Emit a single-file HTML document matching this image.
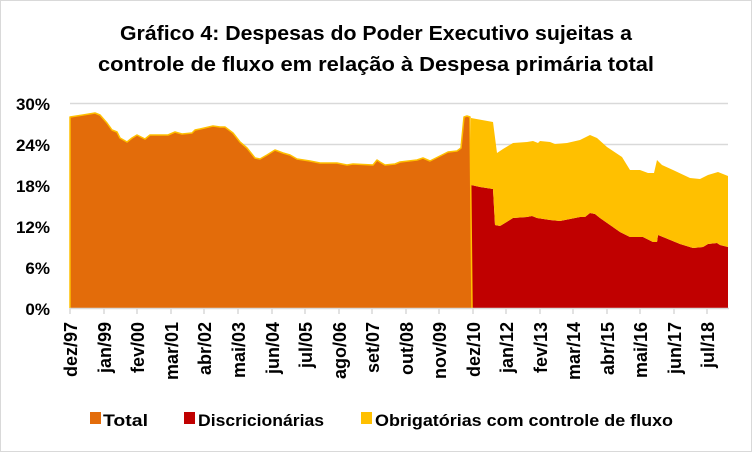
<!DOCTYPE html>
<html><head><meta charset="utf-8"><style>html,body{margin:0;padding:0;background:#fff}svg{display:block}</style></head><body>
<svg width="752" height="452" viewBox="0 0 752 452" xmlns="http://www.w3.org/2000/svg" font-family="Liberation Sans, sans-serif">
<rect x="0.5" y="0.5" width="751" height="451" fill="#fff" stroke="#d9d9d9"/>
<text x="376" y="40" text-anchor="middle" font-size="20" font-weight="bold" textLength="512" lengthAdjust="spacingAndGlyphs">Gráfico 4: Despesas do Poder Executivo sujeitas a</text>
<text x="376" y="71" text-anchor="middle" font-size="20" font-weight="bold" textLength="556" lengthAdjust="spacingAndGlyphs">controle de fluxo em relação à Despesa primária total</text>
<g stroke="#d9d9d9" stroke-width="1.5">
<line x1="70" y1="103.5" x2="728" y2="103.5"/><line x1="70" y1="144.5" x2="728" y2="144.5"/><line x1="70" y1="185.5" x2="728" y2="185.5"/><line x1="70" y1="226.5" x2="728" y2="226.5"/><line x1="70" y1="267.5" x2="728" y2="267.5"/>
</g>
<g font-size="17" font-weight="bold" text-anchor="end">
<text x="50" y="110">30%</text><text x="50" y="151">24%</text><text x="50" y="192">18%</text><text x="50" y="233">12%</text><text x="50" y="274">6%</text><text x="50" y="315">0%</text>
</g>
<polygon fill="#c00000" points="471,308 471,185 480,187 493,189 495,225 500,226 505,223 513,218 527,217 532,216 537,218 550,220 560,221 580,217 585,217 590,213 595,214 600,218 610,225 620,232 630,237 643,237 653,242 657,242 658,235 663,237 680,244 693,248 703,247 708,244 717,243 720,245 728,247 728,308"/>
<polygon fill="#ffc000" points="471,185 471,118 493,122 497,153 503,149 513,143 527,142 533,141 538,143 540,141 550,142 555,144 567,143 580,140 590,135 597,138 607,147 613,151 622,157 630,170 640,170 648,173 654,173 657,160 662,165 673,170 690,178 700,179 708,175 718,172 728,176 728,247 720,245 717,243 708,244 703,247 693,248 680,244 663,237 658,235 657,242 653,242 643,237 630,237 620,232 610,225 600,218 595,214 590,213 585,217 580,217 560,221 550,220 537,218 532,216 527,217 513,218 505,223 500,226 495,225 493,189 480,187"/>
<polyline fill="#e36c0a" stroke="#ffc000" stroke-width="1.5" stroke-linejoin="round" points="70,308 70,117 83,115 95,113 100,115 107,123 112,130 117,132 120,138 127,142 132,138 137,135 145,139 150,135 168,135 175,132 182,134 192,133 195,130 200,129 213,126 220,127 225,127 233,133 240,142 247,148 255,158 260,159 267,155 275,150 283,153 290,155 297,159 310,161 320,163 337,163 347,165 353,164 373,165 377,160 380,162 385,165 395,164 400,162 417,160 423,158 430,161 442,155 448,152 457,151 461,148 464,117 467,116 470,117 472,308"/>
<line x1="70" y1="308.5" x2="729" y2="308.5" stroke="#d9d9d9" stroke-width="1.5"/>
<g stroke="#d9d9d9" stroke-width="1.5">
<line x1="70" y1="308" x2="70" y2="314"/><line x1="104" y1="308" x2="104" y2="314"/><line x1="137" y1="308" x2="137" y2="314"/><line x1="171" y1="308" x2="171" y2="314"/><line x1="204" y1="308" x2="204" y2="314"/><line x1="238" y1="308" x2="238" y2="314"/><line x1="272" y1="308" x2="272" y2="314"/><line x1="305" y1="308" x2="305" y2="314"/><line x1="339" y1="308" x2="339" y2="314"/><line x1="372" y1="308" x2="372" y2="314"/><line x1="406" y1="308" x2="406" y2="314"/><line x1="439" y1="308" x2="439" y2="314"/><line x1="473" y1="308" x2="473" y2="314"/><line x1="506" y1="308" x2="506" y2="314"/><line x1="540" y1="308" x2="540" y2="314"/><line x1="573" y1="308" x2="573" y2="314"/><line x1="607" y1="308" x2="607" y2="314"/><line x1="640" y1="308" x2="640" y2="314"/><line x1="674" y1="308" x2="674" y2="314"/><line x1="707" y1="308" x2="707" y2="314"/>
</g>
<g font-size="18" font-weight="bold" text-anchor="end">
<text transform="translate(77,322) rotate(-90)">dez/97</text>
<text transform="translate(111,322) rotate(-90)">jan/99</text>
<text transform="translate(144,322) rotate(-90)">fev/00</text>
<text transform="translate(178,322) rotate(-90)">mar/01</text>
<text transform="translate(211,322) rotate(-90)">abr/02</text>
<text transform="translate(245,322) rotate(-90)">mai/03</text>
<text transform="translate(279,322) rotate(-90)">jun/04</text>
<text transform="translate(312,322) rotate(-90)">jul/05</text>
<text transform="translate(346,322) rotate(-90)">ago/06</text>
<text transform="translate(379,322) rotate(-90)">set/07</text>
<text transform="translate(413,322) rotate(-90)">out/08</text>
<text transform="translate(446,322) rotate(-90)">nov/09</text>
<text transform="translate(480,322) rotate(-90)">dez/10</text>
<text transform="translate(513,322) rotate(-90)">jan/12</text>
<text transform="translate(547,322) rotate(-90)">fev/13</text>
<text transform="translate(580,322) rotate(-90)">mar/14</text>
<text transform="translate(614,322) rotate(-90)">abr/15</text>
<text transform="translate(647,322) rotate(-90)">mai/16</text>
<text transform="translate(681,322) rotate(-90)">jun/17</text>
<text transform="translate(714,322) rotate(-90)">jul/18</text>
</g>
<g font-size="17" font-weight="bold">
<rect x="90" y="412" width="11" height="12" fill="#e36c0a"/><text x="103" y="426" textLength="45" lengthAdjust="spacingAndGlyphs">Total</text>
<rect x="184" y="412" width="11" height="12" fill="#c00000"/><text x="198" y="426" textLength="126" lengthAdjust="spacingAndGlyphs">Discricionárias</text>
<rect x="361" y="412" width="11" height="12" fill="#ffc000"/><text x="375" y="426" textLength="298" lengthAdjust="spacingAndGlyphs">Obrigatórias com controle de fluxo</text>
</g>
</svg>
</body></html>
